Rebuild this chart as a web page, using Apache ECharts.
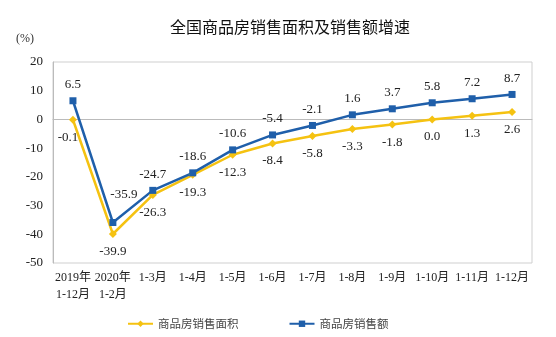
<!DOCTYPE html>
<html><head><meta charset="utf-8">
<script src="https://cdn.jsdelivr.net/npm/echarts@6/dist/echarts.min.js"></script>
<style>html,body{margin:0;padding:0;background:#fff}#c{width:556px;height:337px}</style>
</head><body><div id="c"></div>
<script>
var categories = ["2019年\n1-12月","2020年\n1-2月","1-3月","1-4月","1-5月","1-6月","1-7月","1-8月","1-9月","1-10月","1-11月","1-12月"];
var areaGrowth = [-0.1,-39.9,-26.3,-19.3,-12.3,-8.4,-5.8,-3.3,-1.8,0.0,1.3,2.6];
var salesGrowth = [6.5,-35.9,-24.7,-18.6,-10.6,-5.4,-2.1,1.6,3.7,5.8,7.2,8.7];
var yTicks = {min:-50, max:20, interval:10};

var serif = '"Liberation Serif","Noto Sans CJK SC",serif';
var chart = echarts.init(document.getElementById('c'));
var yellow = '#F5C211', blue = '#1F5FAA';
var areaData = areaGrowth.map(function(v,i){
  if(i===0) return {value:v,label:{offset:[-5,0]}};
  return v;
});
var salesData = salesGrowth.map(function(v,i){
  if(i===1) return {value:v,label:{offset:[11,-12]}};
  return v;
});
chart.setOption({
  animation:false,
  title:{text:'全国商品房销售面积及销售额增速',left:285,textAlign:'center',top:14,
    textStyle:{fontFamily:'"Noto Sans CJK SC",sans-serif',fontSize:16,fontWeight:'normal',color:'#111'}},
  graphic:[{type:'text',left:16,top:33,style:{text:'(%)',font:'12px "Liberation Serif","Noto Sans CJK SC",serif',fill:'#333'}}],
  grid:{left:53,right:24,top:62,bottom:74,show:true,borderColor:'#cfcfcf',borderWidth:1},
  legend:{left:122,top:313,itemGap:50,itemWidth:25,itemHeight:8,
    textStyle:{fontFamily:'"Noto Sans CJK SC",sans-serif',fontSize:11.5,color:'#444'},
    data:['商品房销售面积','商品房销售额']},
  xAxis:{type:'category',data:categories,boundaryGap:true,
    axisLine:{lineStyle:{color:'#bbb'}},
    axisTick:{inside:true,length:4,lineStyle:{color:'#999'}},
    axisLabel:{interval:0,color:'#222',fontFamily:serif,fontSize:12,lineHeight:17,margin:6}},
  yAxis:{type:'value',min:yTicks.min,max:yTicks.max,interval:yTicks.interval,
    splitLine:{show:false},
    axisLine:{show:true,lineStyle:{color:'#bbb'}},
    axisTick:{show:false},
    axisLabel:{color:'#222',fontFamily:serif,fontSize:13,margin:10}},
  series:[
    {name:'商品房销售面积',type:'line',data:areaData,symbol:'diamond',symbolSize:8,
      itemStyle:{color:yellow},lineStyle:{color:yellow,width:2.5},
      label:{show:true,position:'bottom',distance:7,fontFamily:serif,fontSize:13,color:'#222',
        formatter:function(p){return p.value.toFixed(1);}}},
    {name:'商品房销售额',type:'line',data:salesData,symbol:'rect',symbolSize:7,
      itemStyle:{color:blue},lineStyle:{color:blue,width:2.5},
      label:{show:true,position:'top',distance:6,fontFamily:serif,fontSize:13,color:'#222',
        formatter:function(p){return p.value.toFixed(1);}}}
  ]
});
</script></body></html>
